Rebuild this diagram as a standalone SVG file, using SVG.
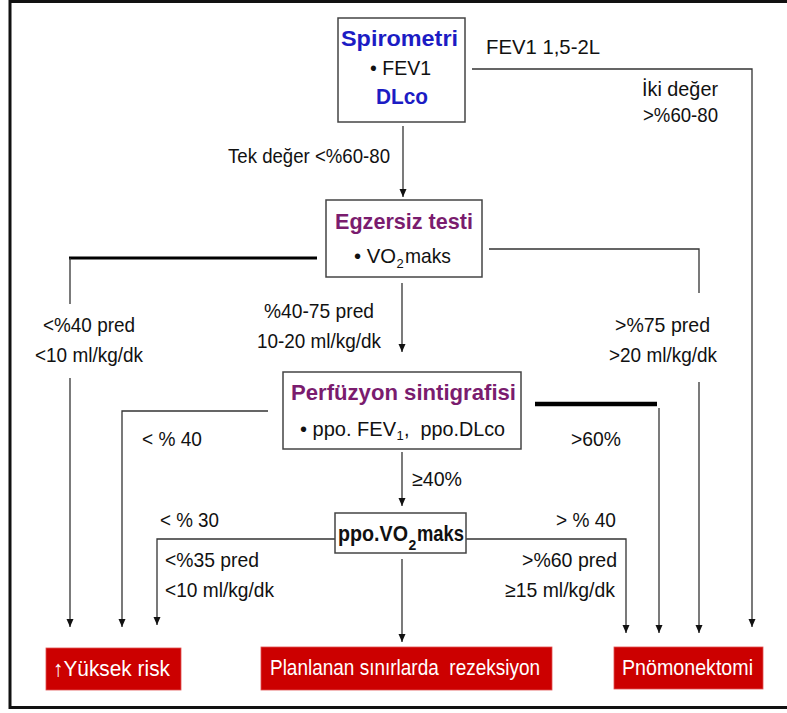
<svg xmlns="http://www.w3.org/2000/svg" width="787" height="713" viewBox="0 0 787 713">
<defs>
<marker id="arr" markerUnits="userSpaceOnUse" markerWidth="8" markerHeight="8" refX="8" refY="3.5" orient="auto">
<path d="M0,0 L8,3.5 L0,7 z" fill="#111"/>
</marker>
<style>
text{font-family:"Liberation Sans",Arial,sans-serif;fill:#111;}
.lbl{font-size:21px;}
.ttl{font-size:22px;font-weight:bold;}
.sub{font-size:13px;}
.subb{font-size:14px;font-weight:bold;}
.blue{fill:#1c1cc4;}
.purp{fill:#7a1c6e;}
.wht{fill:#fff;font-size:22px;}
.box{fill:#fff;stroke:#444;stroke-width:1.5;}
.red{fill:#cc0000;stroke:#e05050;stroke-width:0.8;}
.c{fill:none;stroke:#333;stroke-width:1.3;}
.ca{fill:none;stroke:#333;stroke-width:1.3;marker-end:url(#arr);}
.thick{fill:none;stroke:#000;}
</style>
</defs>
<rect x="10" y="1.5" width="800" height="706" fill="#fff" stroke="#111" stroke-width="3"/>

<g id="connectors">
<polyline class="ca" points="472,69 752,69 752,627"/>
<line class="ca" x1="403" y1="126" x2="403" y2="197"/>
<line class="thick" stroke-width="3" x1="317" y1="258" x2="69" y2="258"/>
<line class="c" x1="70" y1="258" x2="70" y2="304"/>
<line class="ca" x1="70" y1="378" x2="70" y2="627"/>
<polyline class="c" points="489,249 699,249 699,293"/>
<line class="ca" x1="699" y1="382" x2="699" y2="633"/>
<line class="ca" x1="402" y1="283" x2="402" y2="352"/>
<polyline class="ca" points="268,411 122,411 122,627"/>
<line class="thick" stroke-width="4.5" x1="535" y1="404" x2="657" y2="404"/>
<line class="ca" x1="659" y1="408" x2="659" y2="633"/>
<line class="ca" x1="402" y1="452" x2="402" y2="506"/>
<polyline class="ca" points="335,539 157,539 157,625"/>
<polyline class="ca" points="466,539 626,539 626,633"/>
<line class="ca" x1="402" y1="559" x2="402" y2="642"/>
</g>

<g id="labels">
<text class="lbl" x="486" y="54" textLength="114" lengthAdjust="spacingAndGlyphs">FEV1 1,5-2L</text>
<text class="lbl" x="642" y="96" textLength="76" lengthAdjust="spacingAndGlyphs">İki değer</text>
<text class="lbl" x="643" y="122" textLength="75" lengthAdjust="spacingAndGlyphs">&gt;%60-80</text>
<text class="lbl" x="228" y="163" textLength="162" lengthAdjust="spacingAndGlyphs">Tek değer &lt;%60-80</text>
<text class="lbl" x="43" y="332" textLength="92" lengthAdjust="spacingAndGlyphs">&lt;%40 pred</text>
<text class="lbl" x="35" y="362" textLength="108" lengthAdjust="spacingAndGlyphs">&lt;10 ml/kg/dk</text>
<text class="lbl" x="264" y="318" textLength="110" lengthAdjust="spacingAndGlyphs">%40-75 pred</text>
<text class="lbl" x="257" y="348" textLength="124" lengthAdjust="spacingAndGlyphs">10-20 ml/kg/dk</text>
<text class="lbl" x="615" y="332" textLength="95" lengthAdjust="spacingAndGlyphs">&gt;%75 pred</text>
<text class="lbl" x="609" y="362" textLength="108" lengthAdjust="spacingAndGlyphs">&gt;20 ml/kg/dk</text>
<text class="lbl" x="142" y="446" textLength="60" lengthAdjust="spacingAndGlyphs">&lt; % 40</text>
<text class="lbl" x="571" y="446" textLength="50" lengthAdjust="spacingAndGlyphs">&gt;60%</text>
<text class="lbl" x="412" y="486" textLength="50" lengthAdjust="spacingAndGlyphs">≥40%</text>
<text class="lbl" x="160" y="527" textLength="59" lengthAdjust="spacingAndGlyphs">&lt; % 30</text>
<text class="lbl" x="556" y="527" textLength="60" lengthAdjust="spacingAndGlyphs">&gt; % 40</text>
<text class="lbl" x="165" y="567" textLength="94" lengthAdjust="spacingAndGlyphs">&lt;%35 pred</text>
<text class="lbl" x="165" y="597" textLength="109" lengthAdjust="spacingAndGlyphs">&lt;10 ml/kg/dk</text>
<text class="lbl" x="522" y="567" textLength="95" lengthAdjust="spacingAndGlyphs">&gt;%60 pred</text>
<text class="lbl" x="505" y="597" textLength="110" lengthAdjust="spacingAndGlyphs">≥15 ml/kg/dk</text>
</g>

<g id="spirometri">
<rect class="box" x="338" y="18" width="127" height="104"/>
<text class="ttl blue" x="341" y="46" textLength="117" lengthAdjust="spacingAndGlyphs">Spirometri</text>
<text class="lbl" x="370" y="75" textLength="61" lengthAdjust="spacingAndGlyphs">• FEV1</text>
<text class="ttl blue" x="376" y="104" textLength="52" lengthAdjust="spacingAndGlyphs">DLco</text>
</g>

<g id="egzersiz">
<rect class="box" x="326" y="200" width="156" height="77"/>
<text class="ttl purp" x="335" y="229" textLength="138" lengthAdjust="spacingAndGlyphs">Egzersiz testi</text>
<text class="lbl" x="354" y="263" textLength="42" lengthAdjust="spacingAndGlyphs">• VO</text>
<text class="sub" x="396.5" y="268">2</text>
<text class="lbl" x="405" y="263" textLength="46" lengthAdjust="spacingAndGlyphs">maks</text>
</g>

<g id="perfuzyon">
<rect class="box" x="283" y="372" width="238" height="77"/>
<text class="ttl purp" x="291" y="400" textLength="225" lengthAdjust="spacingAndGlyphs">Perfüzyon sintigrafisi</text>
<text class="lbl" x="300" y="436" textLength="96" lengthAdjust="spacingAndGlyphs">• ppo. FEV</text>
<text class="sub" x="396.5" y="440">1</text>
<text class="lbl" x="404" y="436" textLength="101" lengthAdjust="spacingAndGlyphs" xml:space="preserve">,  ppo.DLco</text>
</g>

<g id="ppovo2">
<rect class="box" x="335" y="513" width="131" height="40"/>
<text class="ttl" x="338" y="541" textLength="70" lengthAdjust="spacingAndGlyphs">ppo.VO</text>
<text class="subb" x="408.5" y="550">2</text>
<text class="ttl" x="417" y="541" textLength="47" lengthAdjust="spacingAndGlyphs">maks</text>
</g>

<g id="yuksek">
<rect class="red" x="46" y="648" width="135" height="42"/>
<text class="wht" x="53" y="676" textLength="117" lengthAdjust="spacingAndGlyphs">↑Yüksek risk</text>
</g>

<g id="planlanan">
<rect class="red" x="261" y="647" width="291" height="43"/>
<text class="wht" x="270" y="675" textLength="270" lengthAdjust="spacingAndGlyphs" xml:space="preserve">Planlanan sınırlarda  rezeksiyon</text>
</g>

<g id="pnomonektomi">
<rect class="red" x="614" y="647" width="149" height="42"/>
<text class="wht" x="622" y="675" textLength="131" lengthAdjust="spacingAndGlyphs">Pnömonektomi</text>
</g>
</svg>
